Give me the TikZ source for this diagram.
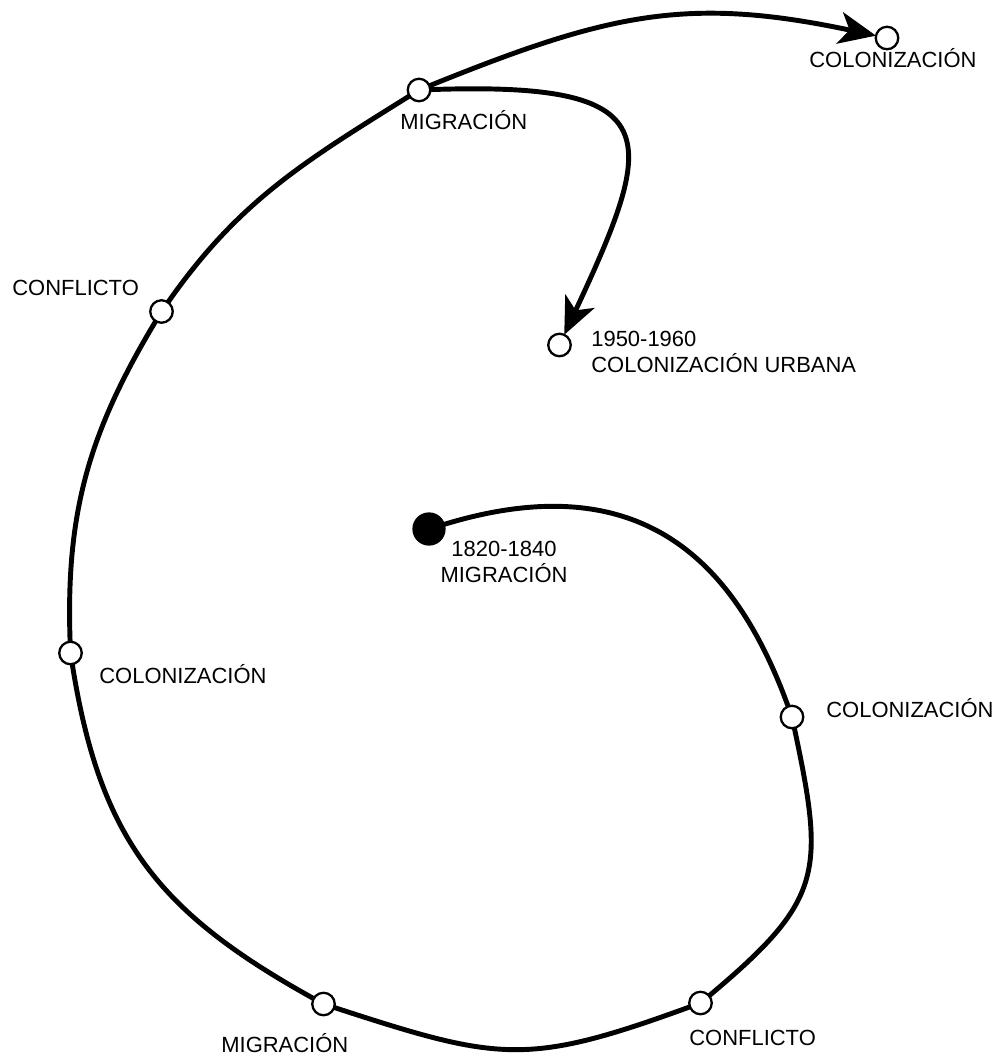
\documentclass[tikz,border=0pt]{standalone}
\usepackage{fontspec}
\setmainfont{Liberation Sans}
\usetikzlibrary{arrows.meta}

\tikzset{
    hito/.style={circle, draw, fill=white, line width=1.3pt, minimum size=0.45cm, inner sep=0pt, outer sep=0pt},
    inicio/.style={hito, fill=black, minimum size=0.62cm},
    etiqueta/.style={inner sep=0pt, font=\fontsize{12.5}{14.8}\selectfont},
    trazo/.style={line width=2.8pt},
    flecha/.style={trazo, -{Stealth[length=0.74cm,width=0.64cm,inset=0.2cm]}}
}

\begin{document}
\begin{tikzpicture}[x=0.02cm, y=0.02cm]
            \useasboundingbox (0,0) rectangle (1001,-1059);

            \node[inicio] (s0) at (429,-529) {};
            \node[hito] (c1) at (792,-717) {};
            \node[hito] (k1) at (700.5,-1003) {};
            \node[hito] (m1) at (323.5,-1004) {};
            \node[hito] (c2) at (70.5,-653) {};
            \node[hito] (k2) at (161.5,-311.5) {};
            \node[hito] (m2) at (419,-90) {};
            \node[hito] (c3) at (887,-38) {};
            \node[hito] (cu) at (559.5,-345) {};

            \node[etiqueta, align=center, anchor=base] (l0) at (504,-582) {1820-1840\\MIGRACIÓN};
            \node[etiqueta, anchor=base west] (lc1) at (826,-717) {COLONIZACIÓN};
            \node[etiqueta, anchor=base west] (lk1) at (689,-1045) {CONFLICTO};
            \node[etiqueta, anchor=base west] (lm1) at (221,-1052) {MIGRACIÓN};
            \node[etiqueta, anchor=base west] (lc2) at (99,-683) {COLONIZACIÓN};
            \node[etiqueta, anchor=base west] (lk2) at (12,-295) {CONFLICTO};
            \node[etiqueta, anchor=base west] (lm2) at (400,-129) {MIGRACIÓN};
            \node[etiqueta, anchor=base west] (lc3) at (809,-67) {COLONIZACIÓN};
            \node[etiqueta, align=left, anchor=base west] (lu) at (591,-372) {1950-1960\\COLONIZACIÓN URBANA};

            \draw[trazo] (s0) to[out=17, in=110, out distance=4.2cm, in distance=3cm] (c1)
                to[out=-78, in=40, looseness=1.35] (k1)
                to[out=200, in=-18, looseness=1.25] (m1)
                to[out=151, in=-81, looseness=1.1] (c2)
                to[out=92, in=-121] (k2)
                to[out=55, in=-148] (m2);

            \draw[flecha] (m2) to[out=22, in=168, looseness=1.1] (c3);
            \draw[flecha] (m2) to[out=2, in=65, out distance=4.8cm, in distance=4.4cm] (cu);
        \end{tikzpicture}
\end{document}
